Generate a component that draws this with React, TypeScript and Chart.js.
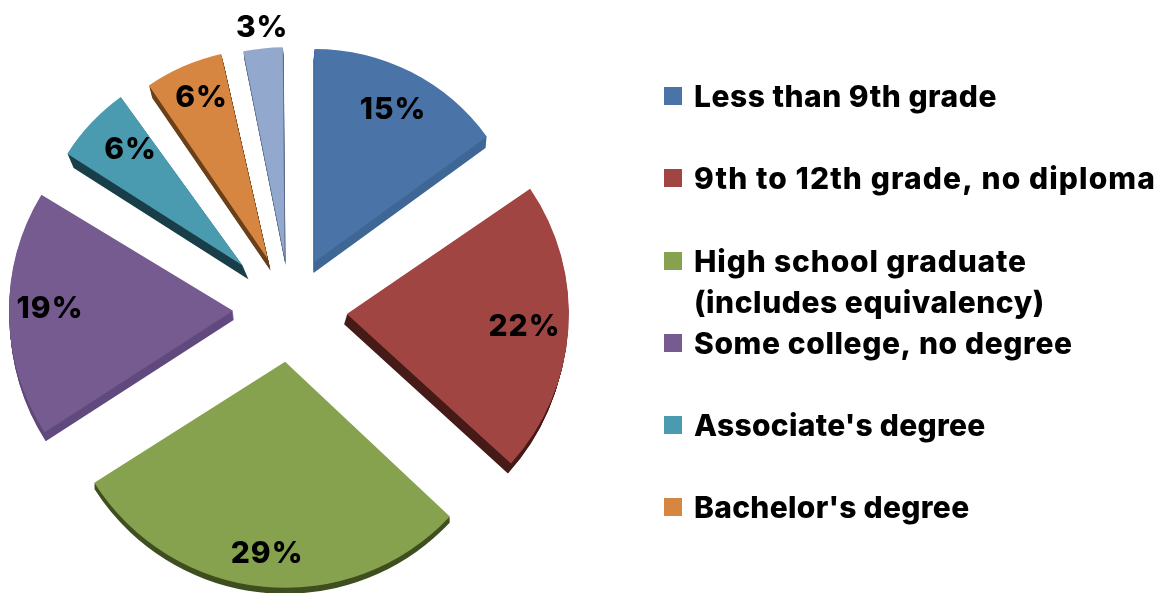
import React, { useEffect, useRef } from "react";
import { Chart, registerables } from "chart.js";

Chart.register(...registerables);

const legendLabels = [
  ["Less than 9th grade"],
  ["9th to 12th grade, no diploma"],
  ["High school graduate", "(includes equivalency)"],
  ["Some college, no degree"],
  ["Associate's degree"],
  ["Bachelor's degree"],
];
const sliceNames = [
  "Less than 9th grade",
  "9th to 12th grade, no diploma",
  "High school graduate (includes equivalency)",
  "Some college, no degree",
  "Associate's degree",
  "Bachelor's degree",
  "",
];
const shares = [15, 22, 29, 19, 6, 6, 3];
const faceColors = ["#4a74a8", "#a14543", "#87a24f", "#755b90", "#4a9bb0", "#d78642", "#92a8cd"];
const sideColors = ["#3f6795", "#451a17", "#3f4f20", "#614a7e", "#1a3f4a", "#6b401a", "#5c6c8c"];
const explode = [54, 57, 52, 57, 65, 56, 53];
const radii = [213, 222, 226, 224, 208, 210, 210];
const depths = [11, 10, 6, 9, 14, 12, 8];
const sideLean = [-1, -3, 0, 1, 6, 3, 1];
const tiltDegrees = [0, 0.4, 0, -2.6, -3.5, -2, -0.5];
const trimDegrees = [0, 2.5, 0, 4.4, 0, 0, 0];
const labelDistance = [227, 235, 243, 240, 227, 232, 285];
const legendTracking = [[0.5], [1.1], [0.85, 0.55], [0.6], [0.3], [0.3]];

const FONT = "Inter, sans-serif";
const legendRows = [97, 179, 262, 344, 426, 508];

const rad = (deg: number) => (deg * Math.PI) / 180;

const geometry = (arc: any, i: number) => {
  const sweep = arc.circumference - rad(trimDegrees[i]);
  const mid = (arc.startAngle + arc.endAngle) / 2;
  return {
    x: arc.x + Math.cos(mid) * explode[i],
    y: arc.y + Math.sin(mid) * explode[i],
    mid,
    start: mid - sweep / 2,
    end: mid + sweep / 2,
  };
};

const sidePlugin = {
  id: "pieSides",
  afterDatasetsUpdate(chart: any) {
    // Chart.js grows a slice's radius and narrows its sweep when it has an offset; undo both per slice.
    // Tilt and trim imitate the foreshortening of the 3-D view.
    chart.getDatasetMeta(0).data.forEach((arc: any, i: number) => {
      const grow = explode[i] * (1 - Math.sin(Math.min(Math.PI, arc.circumference)));
      const narrow = grow / (Math.PI * radii[i]);
      const trim = rad(trimDegrees[i]);
      arc.outerRadius = radii[i] - grow;
      arc.startAngle += rad(tiltDegrees[i]) - narrow / 2 + trim / 2;
      arc.endAngle += rad(tiltDegrees[i]) + narrow / 2 - trim / 2;
    });
  },
  beforeDatasetsDraw(chart: any) {
    const { ctx } = chart;
    chart.getDatasetMeta(0).data.forEach((arc: any, i: number) => {
      const g = geometry(arc, i);
      ctx.save();
      ctx.fillStyle = sideColors[i];
      for (let d = depths[i]; d >= 1; d--) {
        const dx = (sideLean[i] * d) / depths[i];
        ctx.beginPath();
        ctx.moveTo(g.x + dx, g.y + d);
        ctx.arc(g.x + dx, g.y + d, radii[i], g.start, g.end);
        ctx.closePath();
        ctx.fill();
      }
      ctx.restore();
    });
  },
};

const textPlugin = {
  id: "pieText",
  afterDatasetsDraw(chart: any) {
    const { ctx } = chart;
    ctx.save();
    ctx.fillStyle = "#000";
    ctx.font = `800 30px ${FONT}`;
    ctx.letterSpacing = "1px";
    ctx.textAlign = "center";
    ctx.textBaseline = "middle";
    chart.getDatasetMeta(0).data.forEach((arc: any, i: number) => {
      const g = geometry(arc, i);
      const mid = g.mid - rad(tiltDegrees[i]) * 0.6;
      ctx.fillText(
        `${shares[i]}%`,
        arc.x + Math.cos(mid) * labelDistance[i],
        arc.y + Math.sin(mid) * labelDistance[i] + 2
      );
    });
    ctx.textAlign = "left";
    ctx.textBaseline = "alphabetic";
    ctx.font = `800 30px ${FONT}`;
    legendLabels.forEach((lines, i) => {
      const y = legendRows[i];
      ctx.fillStyle = faceColors[i];
      ctx.fillRect(664, y - 10, 18, 18);
      ctx.fillStyle = "#000";
      lines.forEach((line, k) => {
        ctx.letterSpacing = `${legendTracking[i][k]}px`;
        ctx.fillText(line, 694, y + 10 + k * 41);
      });
    });
    ctx.restore();
  },
};

export default function App() {
  const ref = useRef<HTMLCanvasElement>(null);
  useEffect(() => {
    const chart = new Chart(ref.current as HTMLCanvasElement, {
      type: "pie",
      data: {
        labels: sliceNames,
        datasets: [
          {
            data: shares,
            backgroundColor: faceColors,
            borderWidth: 0,
            offset: explode.map((o) => o * 4),
          },
        ],
      },
      options: {
        responsive: false,
        animation: false,
        radius: 220,
        layout: { padding: { left: 0, right: 593, top: 27, bottom: 0 } },
        plugins: { legend: { display: false }, tooltip: { enabled: false } },
      },
      plugins: [sidePlugin, textPlugin],
    } as any);
    return () => chart.destroy();
  }, []);
  return (
    <div style={{ position: "absolute", left: 0, top: 0, width: 1173, height: 593, background: "#fff", overflow: "hidden" }}>
      <canvas ref={ref} width={1173} height={593} style={{ display: "block", filter: "blur(0.5px)" }} />
    </div>
  );
}
